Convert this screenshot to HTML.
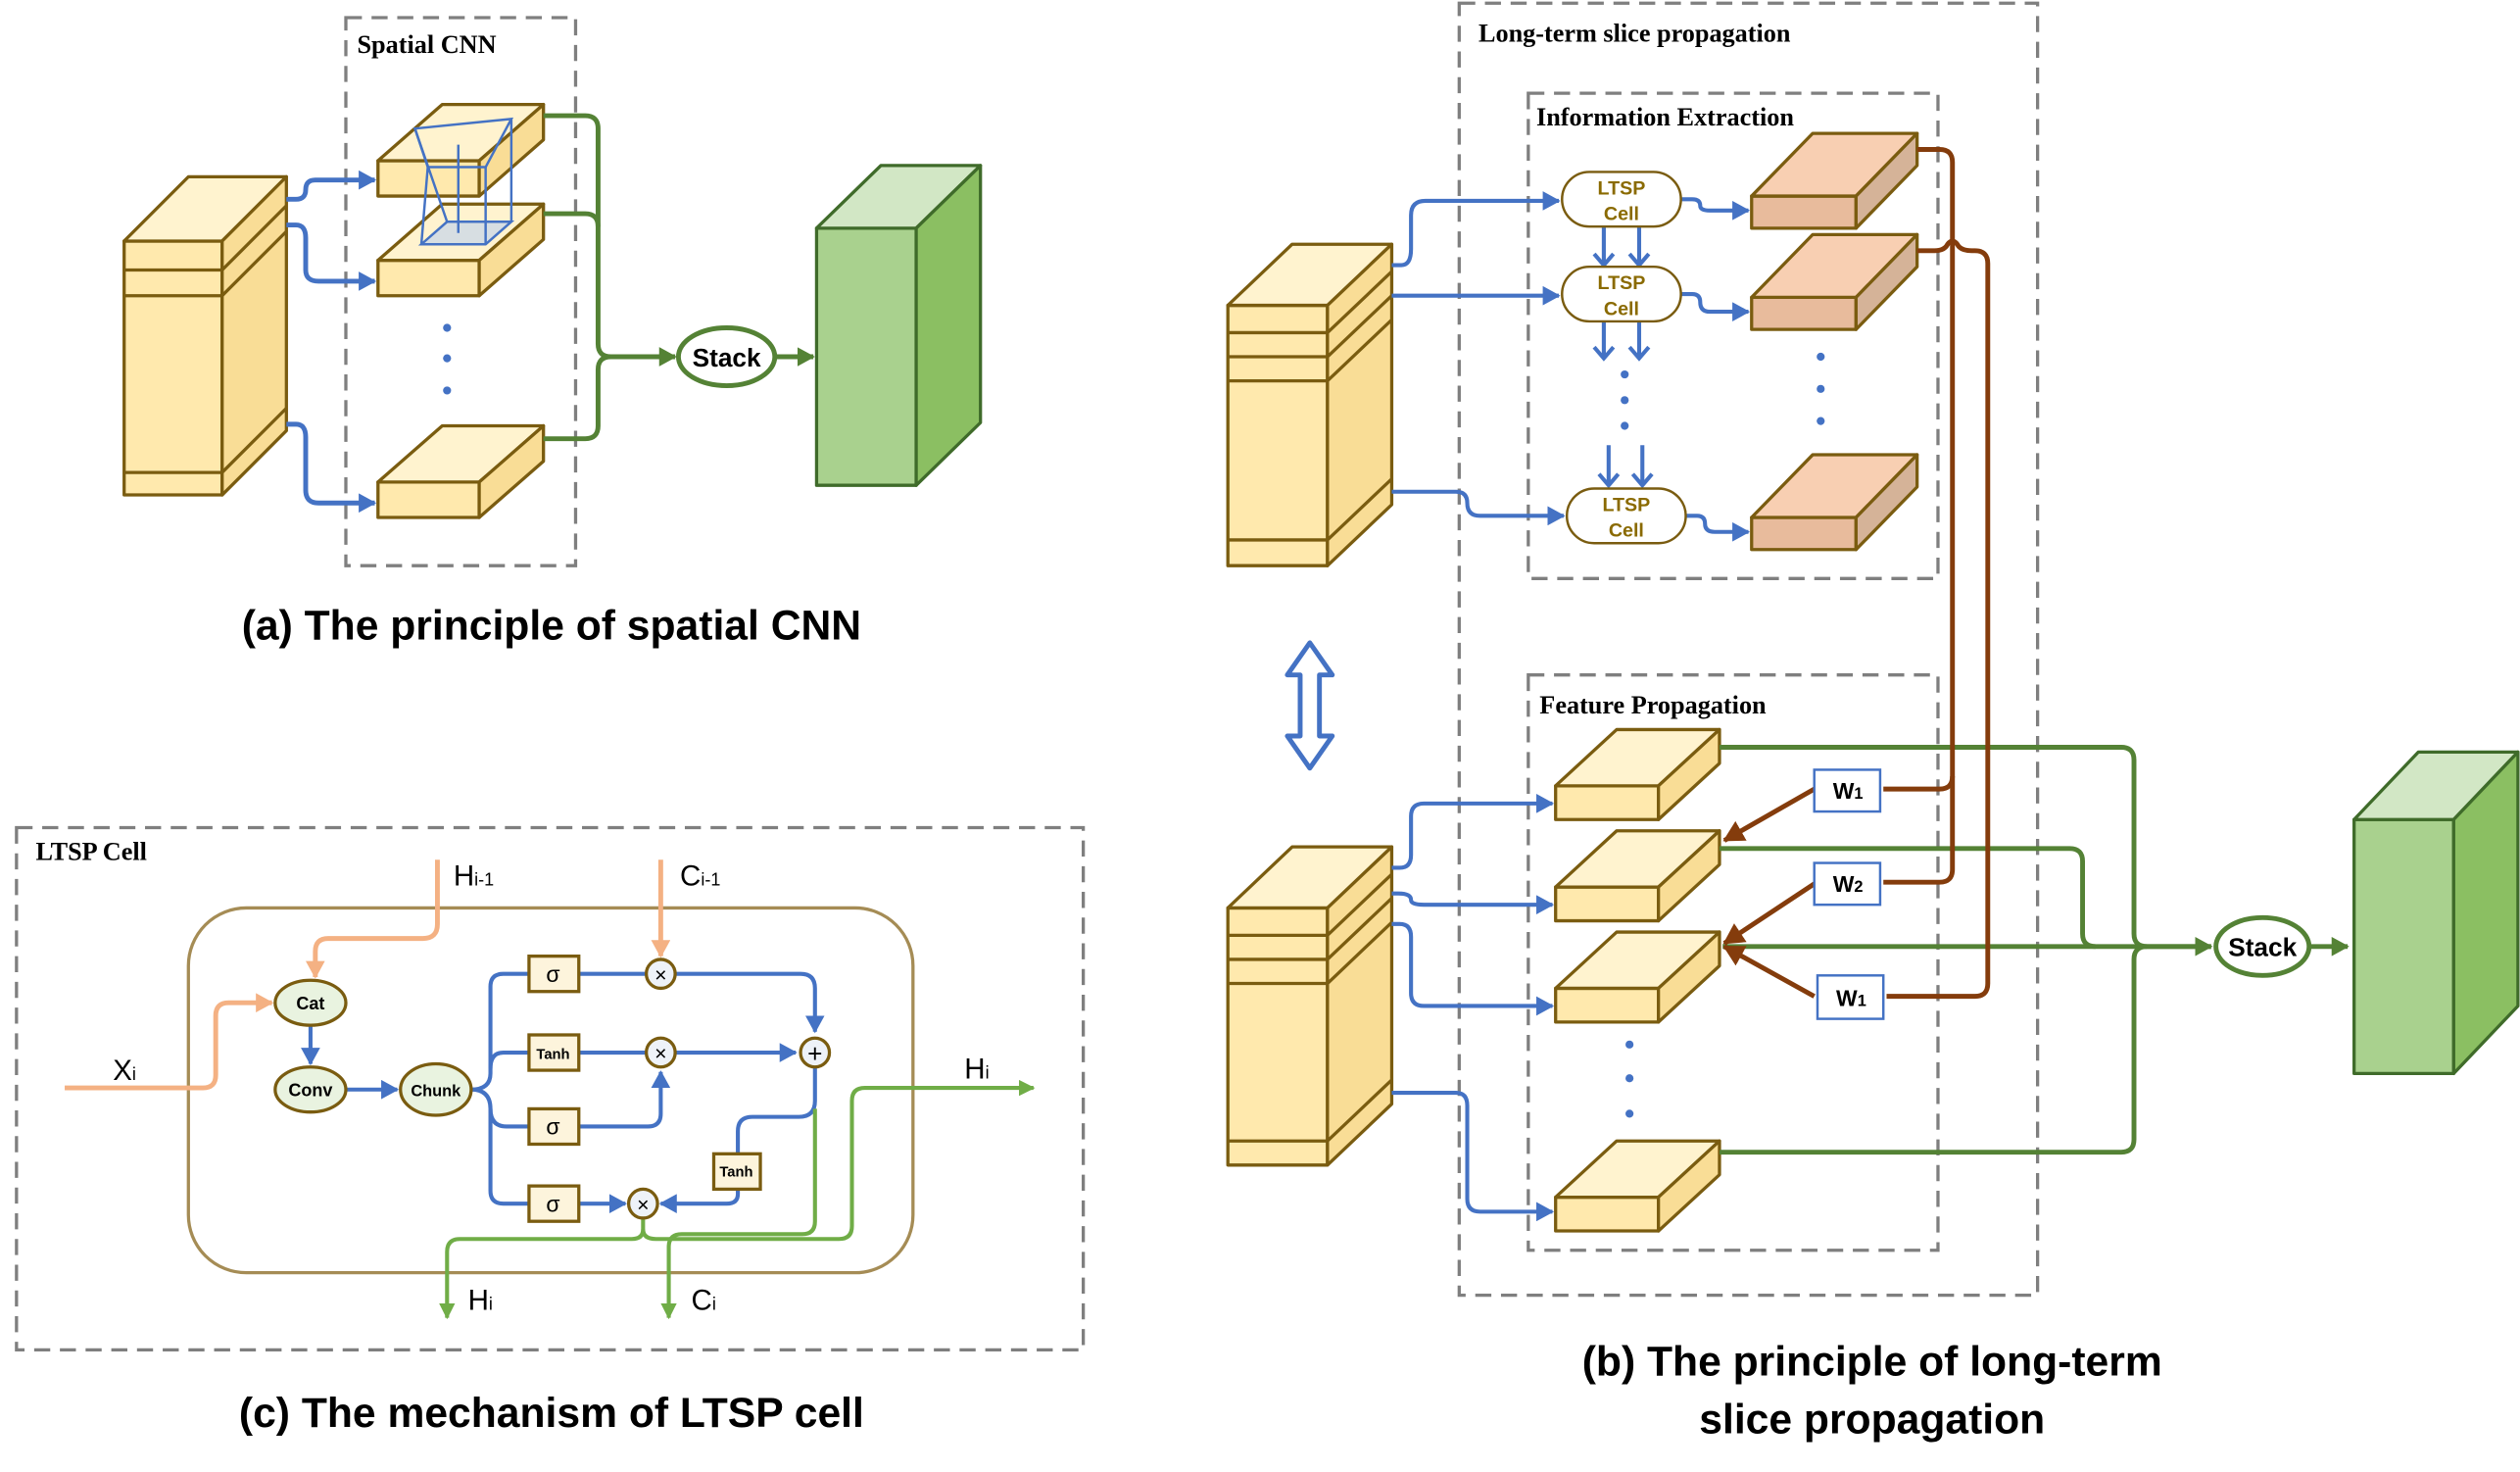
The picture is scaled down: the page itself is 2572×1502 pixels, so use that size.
<!DOCTYPE html>
<html><head><meta charset="utf-8"><style>
html,body{margin:0;padding:0;background:#fff;}
svg{display:block;}
.ser{font-family:"Liberation Serif",serif;font-weight:bold;font-size:16px;}
.cap{font-family:"Liberation Sans",sans-serif;font-weight:bold;font-size:26px;}
.sm{font-family:"Liberation Sans",sans-serif;font-weight:bold;}
</style></head><body>
<svg width="2572" height="1502" viewBox="0 0 1568 916" xmlns="http://www.w3.org/2000/svg">
<defs>
<marker id="ab" markerUnits="userSpaceOnUse" markerWidth="12" markerHeight="12" refX="10" refY="6" orient="auto"><path d="M0,0 L11,6 L0,12 z" fill="#4472c4"/></marker>
<marker id="ag" markerUnits="userSpaceOnUse" markerWidth="12" markerHeight="12" refX="10" refY="6" orient="auto"><path d="M0,0 L11,6 L0,12 z" fill="#548235"/></marker>
<marker id="alg" markerUnits="userSpaceOnUse" markerWidth="10" markerHeight="10" refX="9" refY="5" orient="auto"><path d="M0,0 L10,5 L0,10 z" fill="#70ad47"/></marker>
<marker id="ar" markerUnits="userSpaceOnUse" markerWidth="14" markerHeight="14" refX="12" refY="7" orient="auto"><path d="M0,0 L13,7 L0,14 z" fill="#843c0c"/></marker>
<marker id="ao" markerUnits="userSpaceOnUse" markerWidth="12" markerHeight="12" refX="10" refY="6" orient="auto"><path d="M0,0 L11,6 L0,12 z" fill="#f4b183"/></marker>
</defs>
<g fill="none" stroke="#7f7f7f" stroke-width="2" stroke-dasharray="10,6">
<rect x="215" y="11" width="143" height="341"/>
<rect x="10" y="515" width="664" height="325"/>
<rect x="908" y="2" width="360" height="804"/>
<rect x="951" y="58" width="255" height="302"/>
<rect x="951" y="420" width="255" height="358"/>
</g>
<text class="ser" x="222" y="33">Spatial CNN</text>
<text class="ser" x="22" y="535">LTSP Cell</text>
<text class="ser" x="920" y="26">Long-term slice propagation</text>
<text class="ser" x="956" y="78">Information Extraction</text>
<text class="ser" x="958" y="444">Feature Propagation</text>

<!-- (a) -->
<g stroke="#7a5c10" stroke-width="2" stroke-linejoin="round">
<rect x="77" y="150" width="61" height="158" fill="#ffe9ad"/>
<polygon points="77,150 117,110 178,110 138,150" fill="#fff3cf"/>
<polygon points="138,150 178,110 178,268 138,308" fill="#f9dd96"/>
<path d="M77,168H138L178,128M77,184H138L178,144M77,294H138L178,254" fill="none"/>
<rect x="235" y="100" width="63" height="22" fill="#ffe9ad"/>
<polygon points="235,100 275,65 338,65 298,100" fill="#fff3cf"/>
<polygon points="298,100 338,65 338,87 298,122" fill="#f9dd96"/>
<rect x="235" y="162" width="63" height="22" fill="#ffe9ad"/>
<polygon points="235,162 275,127 338,127 298,162" fill="#fff3cf"/>
<polygon points="298,162 338,127 338,149 298,184" fill="#f9dd96"/>
<rect x="235" y="300" width="63" height="22" fill="#ffe9ad"/>
<polygon points="235,300 275,265 338,265 298,300" fill="#fff3cf"/>
<polygon points="298,300 338,265 338,287 298,322" fill="#f9dd96"/>
</g>
<g stroke="#4472c4" stroke-width="1.5" fill="none">
<polygon points="258,80 318,74 302,104 266,104"/>
<polygon points="262,152 278,138 318,138 302,152" fill="#bdd0ee" fill-opacity="0.6"/>
<path d="M258,80L278,138M318,74L318,138M302,104L302,152M266,104L262,152M285,90L285,145"/>
</g>
<g fill="#4472c4"><circle cx="278" cy="204" r="2.5"/><circle cx="278" cy="223" r="2.5"/><circle cx="278" cy="243" r="2.5"/></g>
<g stroke="#4472c4" stroke-width="3" fill="none">
<path d="M178,124 H184 Q190,124 190,118 V118 Q190,112 196,112 H233" marker-end="url(#ab)"/>
<path d="M178,140 H184 Q190,140 190,148 V168 Q190,175 198,175 H233" marker-end="url(#ab)"/>
<path d="M178,264 H184 Q190,264 190,272 V305 Q190,313 198,313 H233" marker-end="url(#ab)"/>
</g>
<g stroke="#548235" stroke-width="3" fill="none">
<path d="M338,72 H364 Q372,72 372,80 V214 Q372,222 380,222 H420" marker-end="url(#ag)"/>
<path d="M338,133 H364 Q372,133 372,141"/>
<path d="M338,273 H364 Q372,273 372,265 V230 Q372,222 380,222"/>
<path d="M482,222 H506" marker-end="url(#ag)"/>
</g>
<ellipse cx="452" cy="222" rx="30" ry="18" fill="#fff" stroke="#548235" stroke-width="3"/>
<text class="sm" x="452" y="228" font-size="16" text-anchor="middle">Stack</text>
<g stroke="#3f6b2a" stroke-width="2" stroke-linejoin="round">
<rect x="508" y="142" width="62" height="160" fill="#a9d18e"/>
<polygon points="508,142 548,103 610,103 570,142" fill="#d2e7c5"/>
<polygon points="570,142 610,103 610,263 570,302" fill="#8bbf62"/>
</g>
<text class="cap" x="343" y="398" text-anchor="middle">(a) The principle of spatial CNN</text>

<!-- (c) -->
<rect x="117" y="565" width="451" height="227" rx="36" fill="none" stroke="#a58c55" stroke-width="2"/>
<g stroke="#f4b183" stroke-width="3" fill="none">
<path d="M272,535 V575 Q272,584 263,584 H204 Q196,584 196,592 V608" marker-end="url(#ao)"/>
<path d="M40,677 H126 Q134,677 134,669 V632 Q134,624 142,624 H169" marker-end="url(#ao)"/>
<path d="M411,535 V595" marker-end="url(#ao)"/>
</g>
<g stroke="#4472c4" stroke-width="2.5" fill="none">
<path d="M193,638 V662" marker-end="url(#ab)"/>
<path d="M215,678 H247" marker-end="url(#ab)"/>
<path d="M293,678 Q305,678 305,668 V614 Q305,606 313,606 H329"/>
<path d="M305,665 Q305,655 313,655 H329"/>
<path d="M293,678 Q305,678 305,690 Q305,701 315,701 H329"/>
<path d="M305,690 V741 Q305,749 313,749 H329"/>
<path d="M360,606 H402 M420,606 H498 Q507,606 507,615 V642" marker-end="url(#ab)"/>
<path d="M360,655 H402 M420,655 H495" marker-end="url(#ab)"/>
<path d="M360,701 H403 Q411,701 411,693 V667" marker-end="url(#ab)"/>
<path d="M507,664 V685 Q507,695 497,695 H468 Q459,695 459,704 V718"/>
<path d="M459,740 V743 Q459,749 452,749 H411" marker-end="url(#ab)"/>
<path d="M360,749 H389" marker-end="url(#ab)"/>
</g>
<g stroke="#70ad47" stroke-width="2.5" fill="none">
<path d="M400,758 V765 Q400,771 393,771 H286 Q278,771 278,779 V820" marker-end="url(#alg)"/>
<path d="M507,690 V760 Q507,768 499,768 H424 Q416,768 416,776 V820" marker-end="url(#alg)"/>
<path d="M400,765 Q400,771 408,771 H522 Q530,771 530,763 V685 Q530,677 538,677 H643" marker-end="url(#alg)"/>
</g>
<g stroke="#7a5c10" stroke-width="2" fill="#e9f3e0">
<ellipse cx="193" cy="624" rx="22" ry="14"/>
<ellipse cx="193" cy="678" rx="22" ry="14"/>
<ellipse cx="271" cy="678" rx="22" ry="16"/>
</g>
<g class="sm" text-anchor="middle" font-size="11"><text x="193" y="628">Cat</text><text x="193" y="682">Conv</text><text x="271" y="682" font-size="10">Chunk</text></g>
<g stroke="#7a5c10" stroke-width="2" fill="#fdf4dc">
<rect x="329" y="595" width="31" height="22"/><rect x="329" y="644" width="31" height="22"/>
<rect x="329" y="690" width="31" height="22"/><rect x="329" y="738" width="31" height="22"/>
<rect x="444" y="718" width="29" height="22"/>
</g>
<g font-family="Liberation Sans,sans-serif" text-anchor="middle">
<text x="344" y="611" font-size="14">σ</text><text x="344" y="659" font-size="9" font-weight="bold">Tanh</text>
<text x="344" y="706" font-size="14">σ</text><text x="344" y="754" font-size="14">σ</text>
<text x="458" y="732" font-size="9" font-weight="bold">Tanh</text>
</g>
<g stroke="#7a5c10" stroke-width="2" fill="#eef2f8">
<circle cx="411" cy="606" r="9"/><circle cx="411" cy="655" r="9"/><circle cx="400" cy="749" r="9"/><circle cx="507" cy="655" r="9"/>
</g>
<g font-family="Liberation Sans,sans-serif" font-size="13" text-anchor="middle">
<text x="411" y="611">×</text><text x="411" y="660">×</text><text x="400" y="754">×</text><text x="507" y="661" font-size="16">+</text>
</g>
<g font-family="Liberation Sans,sans-serif" font-size="18">
<text x="70" y="672">X<tspan font-size="11">i</tspan></text>
<text x="282" y="551">H<tspan font-size="11">i-1</tspan></text>
<text x="423" y="551">C<tspan font-size="11">i-1</tspan></text>
<text x="600" y="671">H<tspan font-size="11">i</tspan></text>
<text x="291" y="815">H<tspan font-size="11">i</tspan></text>
<text x="430" y="815">C<tspan font-size="11">i</tspan></text>
</g>
<text class="cap" x="343" y="888" text-anchor="middle">(c)  The mechanism of LTSP cell</text>

<!-- (b) -->
<g stroke="#7a5c10" stroke-width="2" stroke-linejoin="round">
<rect x="764" y="190" width="62" height="162" fill="#ffe9ad"/>
<polygon points="764,190 804,152 866,152 826,190" fill="#fff3cf"/>
<polygon points="826,190 866,152 866,314 826,352" fill="#f9dd96"/>
<path d="M764,207H826L866,169M764,222H826L866,184M764,237H826L866,199M764,336H826L866,298" fill="none"/>
<rect x="764" y="565" width="62" height="160" fill="#ffe9ad"/>
<polygon points="764,565 804,527 866,527 826,565" fill="#fff3cf"/>
<polygon points="826,565 866,527 866,687 826,725" fill="#f9dd96"/>
<path d="M764,582H826L866,544M764,597H826L866,559M764,612H826L866,574M764,710H826L866,672" fill="none"/>
</g>
<path d="M815,400 L829,420 H821 V458 H829 L815,478 L801,458 H809 V420 H801 Z" fill="#fff" stroke="#4472c4" stroke-width="3" stroke-linejoin="round"/>
<!-- orange slabs -->
<g stroke="#7a5c10" stroke-width="2" stroke-linejoin="round">
<rect x="1090" y="122" width="65" height="20" fill="#e8bb9c"/>
<polygon points="1090,122 1128,83 1193,83 1155,122" fill="#f8cfb2"/>
<polygon points="1155,122 1193,83 1193,103 1155,142" fill="#d5b398"/>
<rect x="1090" y="185" width="65" height="20" fill="#e8bb9c"/>
<polygon points="1090,185 1128,146 1193,146 1155,185" fill="#f8cfb2"/>
<polygon points="1155,185 1193,146 1193,166 1155,205" fill="#d5b398"/>
<rect x="1090" y="322" width="65" height="20" fill="#e8bb9c"/>
<polygon points="1090,322 1128,283 1193,283 1155,322" fill="#f8cfb2"/>
<polygon points="1155,322 1193,283 1193,303 1155,342" fill="#d5b398"/>
</g>
<g fill="#4472c4">
<circle cx="1133" cy="222" r="2.5"/><circle cx="1133" cy="242" r="2.5"/><circle cx="1133" cy="262" r="2.5"/>
<circle cx="1011" cy="233" r="2.5"/><circle cx="1011" cy="249" r="2.5"/><circle cx="1011" cy="265" r="2.5"/>
<circle cx="1014" cy="650" r="2.5"/><circle cx="1014" cy="671" r="2.5"/><circle cx="1014" cy="693" r="2.5"/>
</g>
<g stroke="#4472c4" stroke-width="2.5" fill="none">
<path d="M866,165 H872 Q878,165 878,155 V134 Q878,125 887,125 H970" marker-end="url(#ab)"/>
<path d="M866,184 H970" marker-end="url(#ab)"/>
<path d="M866,306 H906 Q913,306 913,313 Q913,321 921,321 H973" marker-end="url(#ab)"/>
<path d="M1046,124 H1053 Q1058,124 1058,128 Q1058,131 1064,131 H1088" marker-end="url(#ab)"/>
<path d="M1046,183 H1053 Q1058,183 1058,188 Q1058,194 1064,194 H1088" marker-end="url(#ab)"/>
<path d="M1049,321 H1056 Q1061,321 1061,326 Q1061,331 1067,331 H1088" marker-end="url(#ab)"/>
<path d="M998,141 V165 M1020,141 V165 M998,200 V223 M1020,200 V223 M1001,277 V302 M1022,277 V302"/>
<path d="M992,158 L998,165 L1004,158 M1014,158 L1020,165 L1026,158 M992,216 L998,223 L1004,216 M1014,216 L1020,223 L1026,216 M995,295 L1001,302 L1007,295 M1016,295 L1022,302 L1028,295"/>
<path d="M866,540 H871 Q878,540 878,532 V508 Q878,500 886,500 H966" marker-end="url(#ab)"/>
<path d="M866,556 H870 Q878,556 878,560 Q878,563 886,563 H966" marker-end="url(#ab)"/>
<path d="M866,575 H871 Q878,575 878,583 V618 Q878,626 886,626 H966" marker-end="url(#ab)"/>
<path d="M866,680 H906 Q913,680 913,688 V746 Q913,754 921,754 H966" marker-end="url(#ab)"/>
</g>
<g stroke="#7a5c10" stroke-width="1.5" fill="#fff">
<rect x="972" y="107" width="74" height="34" rx="17"/>
<rect x="972" y="166" width="74" height="34" rx="17"/>
<rect x="975" y="304" width="74" height="34" rx="17"/>
</g>
<g class="sm" font-size="12" fill="#8a6a00" text-anchor="middle">
<text x="1009" y="121">LTSP</text><text x="1009" y="137">Cell</text>
<text x="1009" y="180">LTSP</text><text x="1009" y="196">Cell</text>
<text x="1012" y="318">LTSP</text><text x="1012" y="334">Cell</text>
</g>
<!-- yellow FP slabs -->
<g stroke="#7a5c10" stroke-width="2" stroke-linejoin="round">
<rect x="968" y="489" width="64" height="21" fill="#ffe9ad"/>
<polygon points="968,489 1006,454 1070,454 1032,489" fill="#fff3cf"/>
<polygon points="1032,489 1070,454 1070,475 1032,510" fill="#f9dd96"/>
<rect x="968" y="552" width="64" height="21" fill="#ffe9ad"/>
<polygon points="968,552 1006,517 1070,517 1032,552" fill="#fff3cf"/>
<polygon points="1032,552 1070,517 1070,538 1032,573" fill="#f9dd96"/>
<rect x="968" y="615" width="64" height="21" fill="#ffe9ad"/>
<polygon points="968,615 1006,580 1070,580 1032,615" fill="#fff3cf"/>
<polygon points="1032,615 1070,580 1070,601 1032,636" fill="#f9dd96"/>
<rect x="968" y="745" width="64" height="21" fill="#ffe9ad"/>
<polygon points="968,745 1006,710 1070,710 1032,745" fill="#fff3cf"/>
<polygon points="1032,745 1070,710 1070,731 1032,766" fill="#f9dd96"/>
</g>
<!-- green lines -->
<g stroke="#548235" stroke-width="3" fill="none">
<path d="M1070,465 H1320 Q1328,465 1328,473 V581 Q1328,589 1336,589 H1376" marker-end="url(#ag)"/>
<path d="M1070,528 H1288 Q1296,528 1296,536 V581 Q1296,589 1304,589"/>
<path d="M1072,589 H1376"/>
<path d="M1070,717 H1320 Q1328,717 1328,709 V597 Q1328,589 1336,589"/>
<path d="M1438,589 H1461" marker-end="url(#ag)"/>
</g>
<ellipse cx="1408" cy="589" rx="29" ry="18" fill="#fff" stroke="#548235" stroke-width="3"/>
<text class="sm" x="1408" y="595" font-size="16" text-anchor="middle">Stack</text>
<!-- brown -->
<g stroke="#843c0c" stroke-width="3" fill="none">
<path d="M1193,93 H1207 Q1215,93 1215,101 V483 Q1215,491 1207,491 H1172"/>
<path d="M1215,483 V541 Q1215,549 1207,549 H1172"/>
<path d="M1193,156 H1204 Q1210,156 1212,152 Q1215,148 1218,152 Q1220,156 1227,156 H1229 Q1237,156 1237,164 V612 Q1237,620 1229,620 H1174"/>
<path d="M1129,491 L1073,523" marker-end="url(#ar)"/>
<path d="M1129,550 L1073,587" marker-end="url(#ar)"/>
<path d="M1129,620 L1073,589" marker-end="url(#ar)"/>
</g>
<g stroke="#4472c4" stroke-width="1.5" fill="#fff">
<rect x="1129" y="479" width="41" height="26"/><rect x="1129" y="537" width="41" height="26"/><rect x="1131" y="607" width="41" height="27"/>
</g>
<g class="sm" font-size="14" text-anchor="middle">
<text x="1150" y="497">W<tspan font-size="10">1</tspan></text>
<text x="1150" y="555">W<tspan font-size="10">2</tspan></text>
<text x="1152" y="626">W<tspan font-size="10">1</tspan></text>
</g>
<g stroke="#3f6b2a" stroke-width="2" stroke-linejoin="round">
<rect x="1465" y="510" width="62" height="158" fill="#a9d18e"/>
<polygon points="1465,510 1505,468 1567,468 1527,510" fill="#d2e7c5"/>
<polygon points="1527,510 1567,468 1567,626 1527,668" fill="#8bbf62"/>
</g>
<text class="cap" x="1165" y="856" text-anchor="middle">(b) The principle of long-term</text>
<text class="cap" x="1165" y="892" text-anchor="middle">slice propagation</text>
</svg>
</body></html>
